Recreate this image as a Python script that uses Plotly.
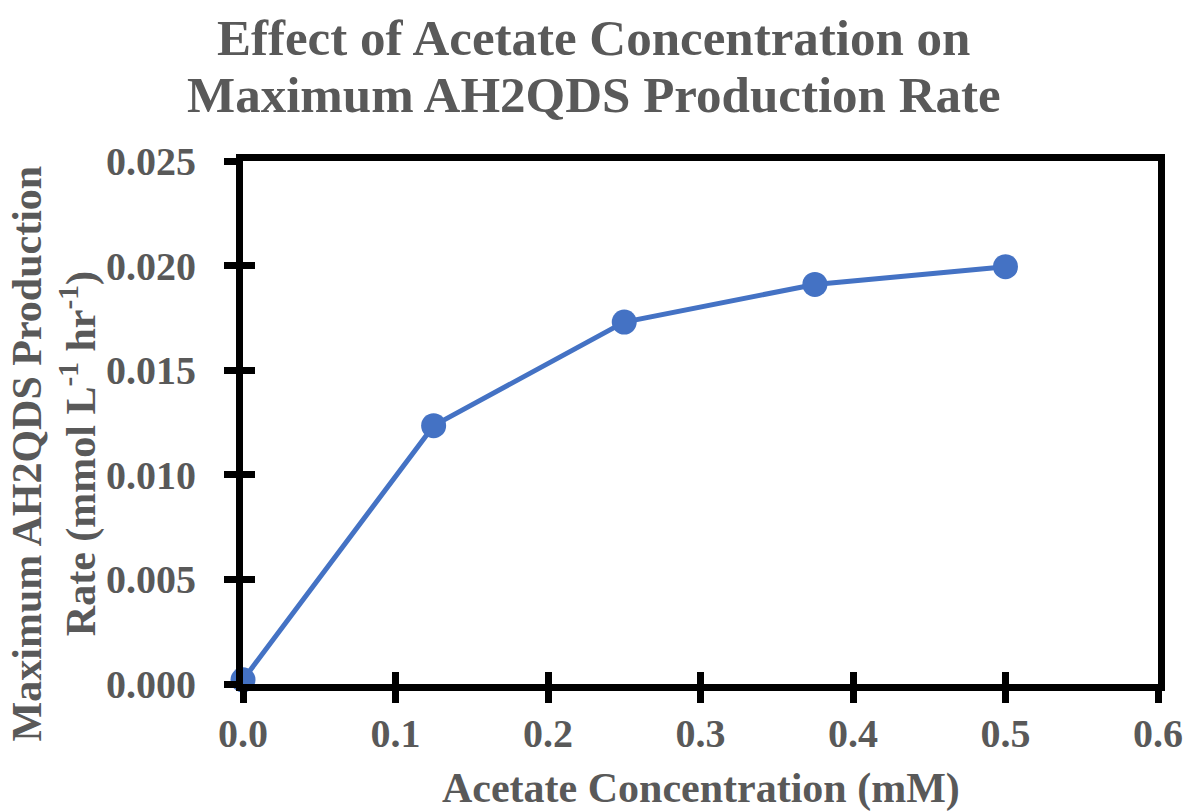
import plotly.graph_objects as go

acetate_mM = [0.0, 0.125, 0.25, 0.375, 0.5]
max_rate = [0.0002, 0.01235, 0.0173, 0.0191, 0.01995]
x_ticks = [0.0, 0.1, 0.2, 0.3, 0.4, 0.5, 0.6]
x_tick_labels = ["0.0", "0.1", "0.2", "0.3", "0.4", "0.5", "0.6"]
y_ticks = [0.0, 0.005, 0.010, 0.015, 0.020, 0.025]
y_tick_labels = ["0.000", "0.005", "0.010", "0.015", "0.020", "0.025"]

GRAY = "#595959"
FONT = "Liberation Serif"
BLUE = "#4472C4"

fig = go.Figure()
fig.add_trace(go.Scatter(
    x=acetate_mM, y=max_rate, mode="lines+markers",
    line=dict(color=BLUE, width=5),
    marker=dict(color=BLUE, size=25),
    cliponaxis=False, showlegend=False,
))
# invisible trace on overlay axes for inside ticks
fig.add_trace(go.Scatter(x=[0], y=[0], xaxis="x2", yaxis="y2", mode="markers",
                         marker=dict(opacity=0), showlegend=False, hoverinfo="skip"))

LW = 7
common = dict(showgrid=False, zeroline=False, linecolor="black", linewidth=LW,
              tickcolor="black", tickwidth=LW)
fig.update_layout(
    width=1195, height=811,
    paper_bgcolor="white", plot_bgcolor="white",
    margin=dict(l=243, r=29, t=161, b=127),
    font=dict(family=FONT, color=GRAY),
    xaxis=dict(range=[0, 0.6], tickvals=x_ticks, ticktext=[f"<b>{t}</b>" for t in x_tick_labels],
               ticks="outside", ticklen=12, mirror=True, showline=True, ticklabelstandoff=-4,
               tickfont=dict(family=FONT, size=40, color=GRAY), **common),
    yaxis=dict(range=[0, 0.025], tickvals=y_ticks, ticktext=[f"<b>{t}</b>" for t in y_tick_labels],
               ticks="outside", ticklen=12, mirror=True, showline=True, ticklabelstandoff=20,
               tickfont=dict(family=FONT, size=40, color=GRAY), **common),
    xaxis2=dict(range=[0, 0.6], tickvals=x_ticks, overlaying="x", side="bottom",
                ticks="inside", ticklen=12, showticklabels=False, showline=False,
                showgrid=False, zeroline=False, tickcolor="black", tickwidth=LW),
    yaxis2=dict(range=[0, 0.025], tickvals=y_ticks, overlaying="y", side="left",
                ticks="inside", ticklen=12, showticklabels=False, showline=False,
                showgrid=False, zeroline=False, tickcolor="black", tickwidth=LW),
    annotations=[
        dict(text="<b>Effect of Acetate Concentration on</b>", xref="paper", yref="paper",
             x=0.3835, y=1.235, xanchor="center", yanchor="middle", showarrow=False,
             font=dict(family=FONT, size=51, color=GRAY)),
        dict(text="<b>Maximum AH2QDS Production Rate</b>", xref="paper", yref="paper",
             x=0.3835, y=1.126, xanchor="center", yanchor="middle", showarrow=False,
             font=dict(family=FONT, size=51, color=GRAY)),
        dict(text="<b>Acetate Concentration (mM)</b>", xref="paper", yref="paper",
             x=0.5, y=-0.2, xanchor="center", yanchor="middle", showarrow=False,
             font=dict(family=FONT, size=42, color=GRAY)),
        dict(text="<b>Maximum AH2QDS Production<br>Rate (mmol L<sup>-1</sup> hr<sup>-1</sup>)</b>",
             xref="paper", yref="paper", x=-0.206, y=0.44, xanchor="center", yanchor="middle",
             textangle=-90, showarrow=False, font=dict(family=FONT, size=42, color=GRAY)),
    ],
)
fig.write_html("out.html")
